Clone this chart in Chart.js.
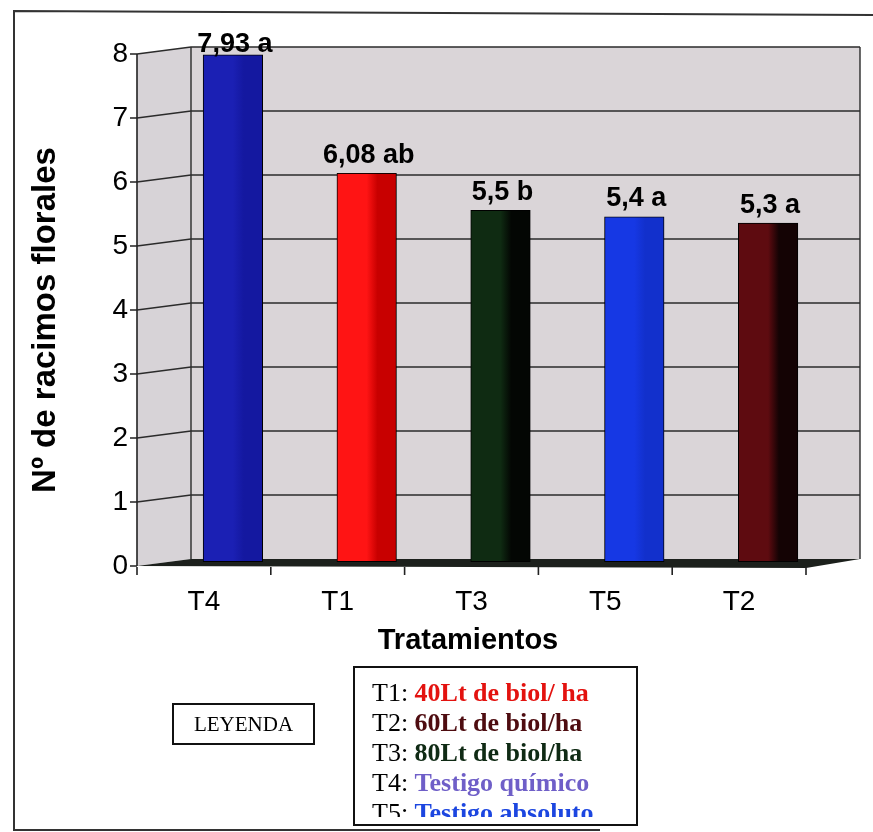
<!DOCTYPE html>
<html>
<head>
<meta charset="utf-8">
<script src="https://cdn.jsdelivr.net/npm/chart.js@4.4.1/dist/chart.umd.min.js"></script>
<style>
  html, body { margin: 0; padding: 0; background: #fff; }
  #wrap { width: 873px; height: 832px; position: relative; }
  canvas { display: block; }
</style>
</head>
<body>
<div id="wrap"><canvas id="chart" width="873" height="832"></canvas></div>
<script>
// Treatments in plotted order and their mean number of flower clusters
const categories = ['T4', 'T1', 'T3', 'T5', 'T2'];
const values = [7.93, 6.08, 5.5, 5.4, 5.3];
const significance = ['a', 'ab', 'b', 'a', 'a'];

// Y axis range and step
const yMin = 0;
const yMax = 8;
const yStep = 1;

// Axis titles
const xTitle = 'Tratamientos';
const yTitle = 'Nº de racimos florales';

// Legend entries
const legendCodes = ['T1', 'T2', 'T3', 'T4', 'T5'];
const legendTexts = ['40Lt de biol/ ha', '60Lt de biol/ha', '80Lt de biol/ha', 'Testigo químico', 'Testigo absoluto'];

// Styling
const SANS = "Arial, 'Liberation Sans', sans-serif";
const SERIF = "'Times New Roman', 'Liberation Serif', serif";
const barFront = ['#1b20b4', '#ff1414', '#0f2b12', '#1638e4', '#5e0b10'];
const barSide  = ['#1418a0', '#c80000', '#030603', '#1230cc', '#140304'];
const legendColors = ['#e3120f', '#4e0c10', '#0f2a14', '#6f5fc8', '#1c46e0'];
const WALL = '#dad5d8';
const SIDE_WALL = '#d7d3d7';
const LINE = '#2b2b2b';

// 3D projection of the plot box: front plane and back wall offsets (px)
const FRONT = { dx: -29, dy: 4 };
const BACK = { dx: 25, dy: -3 };

const valueLabels = values.map((v, i) => String(v).replace('.', ',') + ' ' + significance[i]);

const wallPlugin = {
  id: 'wall3d',
  beforeDatasetsDraw(chart) {
    const { ctx, chartArea: ca, scales: { x, y } } = chart;
    const y0 = y.getPixelForValue(yMin);
    const yT = y.getPixelForValue(yMax);
    const fl = ca.left + FRONT.dx, bl = ca.left + BACK.dx;
    const fr = ca.right + FRONT.dx, br = ca.right + BACK.dx;
    ctx.save();
    // side wall
    ctx.fillStyle = SIDE_WALL;
    ctx.beginPath();
    ctx.moveTo(fl, yT + FRONT.dy); ctx.lineTo(bl, yT + BACK.dy);
    ctx.lineTo(bl, y0 + BACK.dy); ctx.lineTo(fl, y0 + FRONT.dy);
    ctx.closePath(); ctx.fill();
    // back wall
    ctx.fillStyle = WALL;
    ctx.fillRect(bl, yT + BACK.dy, br - bl, y0 - yT);
    // gridlines
    ctx.strokeStyle = LINE;
    ctx.lineWidth = 1.4;
    for (let v = yMin + yStep; v <= yMax; v += yStep) {
      const p = y.getPixelForValue(v);
      ctx.beginPath();
      ctx.moveTo(fl, p + FRONT.dy);
      ctx.lineTo(bl, p + BACK.dy);
      ctx.lineTo(br, p + BACK.dy);
      ctx.stroke();
    }
    // back wall edges
    ctx.beginPath();
    ctx.moveTo(bl, yT + BACK.dy); ctx.lineTo(bl, y0 + BACK.dy);
    ctx.moveTo(br, yT + BACK.dy); ctx.lineTo(br, y0 + BACK.dy);
    ctx.stroke();
    // floor
    ctx.fillStyle = '#1c201c';
    ctx.beginPath();
    ctx.moveTo(fl, y0 + FRONT.dy); ctx.lineTo(bl, y0 + BACK.dy);
    ctx.lineTo(br, y0 + BACK.dy); ctx.lineTo(fr, y0 + FRONT.dy + 2);
    ctx.closePath(); ctx.fill();
    // front value axis with ticks
    ctx.strokeStyle = '#222';
    ctx.lineWidth = 1.6;
    ctx.beginPath();
    ctx.moveTo(fl, yT + FRONT.dy); ctx.lineTo(fl, y0 + FRONT.dy);
    for (let v = yMin; v <= yMax; v += yStep) {
      const p = y.getPixelForValue(v) + FRONT.dy;
      ctx.moveTo(fl - 7, p); ctx.lineTo(fl, p);
    }
    // category ticks on the front edge
    const slot = (ca.right - ca.left) / categories.length;
    for (let i = 0; i <= categories.length; i++) {
      const px = x.getPixelForValue(0) - slot / 2 + i * slot + FRONT.dx;
      ctx.moveTo(px, y0 + FRONT.dy + 1); ctx.lineTo(px, y0 + FRONT.dy + 9);
    }
    ctx.stroke();
    ctx.restore();
  },
  afterDatasetsDraw(chart) {
    const { ctx } = chart;
    const meta = chart.getDatasetMeta(0);
    ctx.save();
    meta.data.forEach((bar, i) => {
      const left = bar.x - bar.width / 2, right = bar.x + bar.width / 2;
      // shaded side of each column
      const g = ctx.createLinearGradient(left, 0, right, 0);
      g.addColorStop(0, barFront[i]);
      g.addColorStop(0.5, barFront[i]);
      g.addColorStop(0.68, barSide[i]);
      g.addColorStop(1, barSide[i]);
      ctx.fillStyle = g;
      ctx.fillRect(left + 1, bar.y + 1, bar.width - 2, bar.base - bar.y - 2);
      // value + significance letter
      ctx.fillStyle = '#000';
      ctx.font = 'bold 27px ' + SANS;
      ctx.textAlign = 'center';
      ctx.textBaseline = 'alphabetic';
      ctx.fillText(valueLabels[i], bar.x + 2, Math.max(bar.y - 10, 52));
    });
    ctx.restore();
  },
  afterDraw(chart) {
    const { ctx } = chart;
    ctx.save();
    // axis titles
    ctx.fillStyle = '#000';
    ctx.textAlign = 'center';
    ctx.textBaseline = 'middle';
    ctx.font = 'bold 29px ' + SANS;
    ctx.fillText(xTitle, 468, 641);
    ctx.save();
    ctx.translate(46, 320);
    ctx.rotate(-Math.PI / 2);
    ctx.font = 'bold 33px ' + SANS;
    ctx.fillText(yTitle, 0, 0);
    ctx.restore();
    // outer frame
    ctx.strokeStyle = '#333';
    ctx.lineWidth = 2;
    ctx.beginPath();
    ctx.moveTo(873, 15); ctx.lineTo(14, 11); ctx.lineTo(14, 830); ctx.lineTo(600, 830);
    ctx.stroke();
    // "LEYENDA" box
    ctx.strokeStyle = '#111';
    ctx.strokeRect(173, 704, 141, 40);
    ctx.fillStyle = '#000';
    ctx.font = '21px ' + SERIF;
    ctx.fillText('LEYENDA', 243.5, 725);
    // legend box
    ctx.strokeRect(354, 667, 283, 158);
    ctx.beginPath();
    ctx.rect(355, 668, 281, 149);
    ctx.clip();
    ctx.textAlign = 'left';
    ctx.textBaseline = 'alphabetic';
    legendCodes.forEach((code, i) => {
      const by = 701 + i * 30;
      ctx.font = '26px ' + SERIF;
      ctx.fillStyle = '#000';
      const lead = code + ': ';
      ctx.fillText(lead, 372, by);
      const w = ctx.measureText(lead).width;
      ctx.font = 'bold 26px ' + SERIF;
      ctx.fillStyle = legendColors[i];
      ctx.fillText(legendTexts[i], 372 + w, by);
    });
    ctx.restore();
  }
};

new Chart(document.getElementById('chart'), {
  type: 'bar',
  data: {
    labels: categories,
    datasets: [{
      data: values,
      backgroundColor: barFront,
      borderColor: '#000',
      borderWidth: 2,
      borderSkipped: false,
      barPercentage: 0.45,
      categoryPercentage: 1
    }]
  },
  options: {
    responsive: false,
    animation: false,
    devicePixelRatio: 1,
    layout: { padding: { left: 0, top: 50, right: 38, bottom: 0 } },
    plugins: { legend: { display: false }, tooltip: { enabled: false } },
    scales: {
      x: {
        grid: { display: false, drawTicks: false },
        border: { display: false },
        ticks: { color: '#000', font: { family: SANS, size: 28 }, padding: 23, labelOffset: FRONT.dx, maxRotation: 0 },
        afterFit(scale) { scale.height = 270; scale.paddingLeft = 0; scale.paddingRight = 0; }
      },
      y: {
        min: yMin, max: yMax,
        grid: { display: false, drawTicks: false },
        border: { display: false },
        ticks: { stepSize: yStep, color: '#000', font: { family: SANS, size: 28 }, padding: 38, labelOffset: FRONT.dy },
        afterFit(scale) { scale.width = 166; scale.paddingTop = 0; scale.paddingBottom = 0; }
      }
    }
  },
  plugins: [wallPlugin]
});
</script>
</body>
</html>
